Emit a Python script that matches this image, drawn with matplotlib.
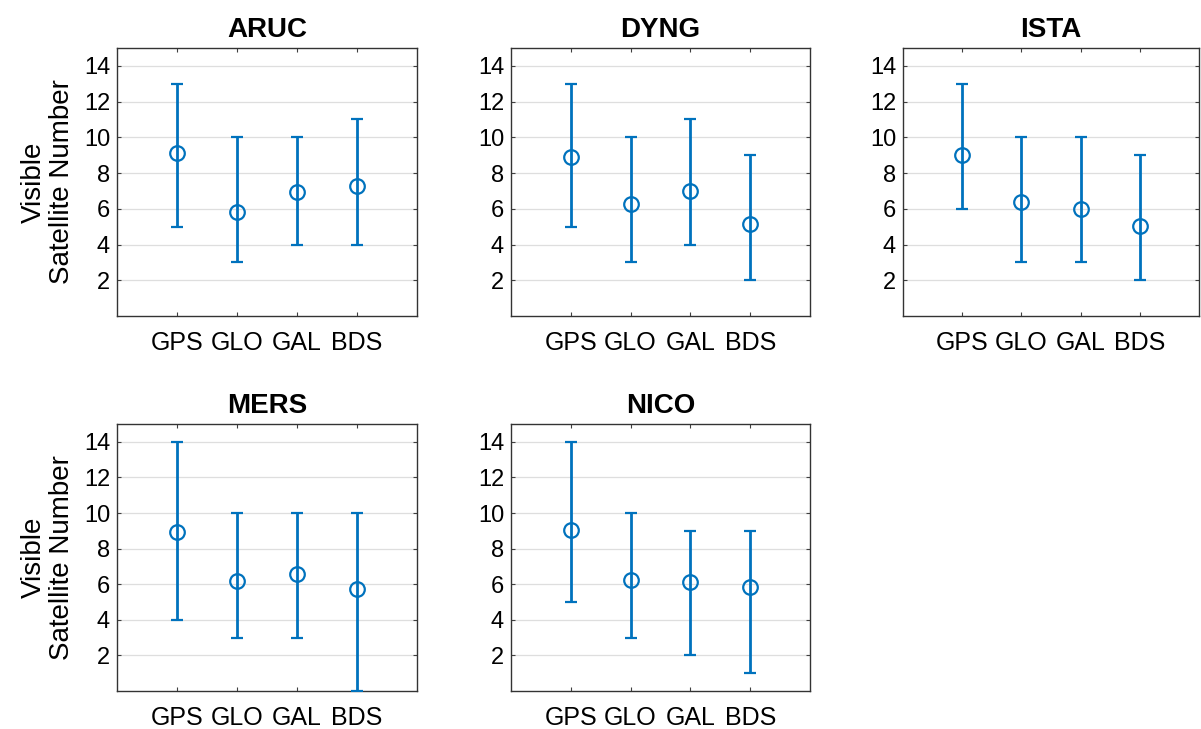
import numpy as np
import matplotlib
matplotlib.use("Agg")
import matplotlib.pyplot as plt

plt.rcParams['font.family'] = ['Liberation Sans', 'DejaVu Sans']

# visible satellite statistics per station (mean, min, max)
systems = ['GPS', 'GLO', 'GAL', 'BDS']
stations = ['ARUC', 'DYNG', 'ISTA', 'MERS', 'NICO']

aruc_mean = [9.1, 5.8, 6.95, 7.3]
aruc_min = [5, 3, 4, 4]
aruc_max = [13, 10, 10, 11]

dyng_mean = [8.9, 6.25, 7.0, 5.13]
dyng_min = [5, 3, 4, 2]
dyng_max = [13, 10, 11, 9]

ista_mean = [9.03, 6.37, 5.98, 5.04]
ista_min = [6, 3, 3, 2]
ista_max = [13, 10, 10, 9]

mers_mean = [8.94, 6.18, 6.6, 5.73]
mers_min = [4, 3, 3, 0]
mers_max = [14, 10, 10, 10]

nico_mean = [9.05, 6.22, 6.12, 5.82]
nico_min = [5, 3, 2, 1]
nico_max = [14, 10, 9, 9]

means = [aruc_mean, dyng_mean, ista_mean, mers_mean, nico_mean]
mins = [aruc_min, dyng_min, ista_min, mers_min, nico_min]
maxs = [aruc_max, dyng_max, ista_max, mers_max, nico_max]

W, H = 1201, 729
fig = plt.figure(figsize=(W / 100, H / 100), dpi=100)

# axes boxes in pixels: left, top, right, bottom
boxes = [(117, 48, 417, 316), (511, 48, 810, 316), (903, 48, 1199, 316),
         (117, 424, 417, 691), (511, 424, 810, 691)]

blue = '#0072BD'
x = np.arange(1, len(systems) + 1)

for i, name in enumerate(stations):
    l, t, r, b = boxes[i]
    ax = fig.add_axes([l / W, 1 - b / H, (r - l) / W, (b - t) / H])
    m = np.array(means[i])
    lo = m - np.array(mins[i])
    hi = np.array(maxs[i]) - m
    ax.errorbar(x, m, yerr=[lo, hi], fmt='o', color=blue, mfc='none',
                mec=blue, ms=10.5, mew=1.6, elinewidth=2, capsize=4.5,
                capthick=2, zorder=3)
    ax.set_xlim(0, 5)
    ax.set_ylim(0, 15)
    ax.set_xticks(x)
    ax.set_xticklabels(systems)
    ax.set_yticks(np.arange(2, 15, 2))
    ax.grid(axis='y', color='#dedede', lw=0.9)
    ax.set_axisbelow(True)
    ax.tick_params(direction='in', length=3, width=0.8, color='#404040',
                   top=True, right=True, labelsize=17)
    ax.tick_params(axis='x', pad=11, labelsize=18)
    ax.tick_params(axis='y', pad=5)
    for s in ax.spines.values():
        s.set_color('#333333')
        s.set_linewidth(1.0)
    ax.set_title(name, fontsize=20, fontweight='bold', pad=8)
    if i in (0, 3):
        ax.set_ylabel('Visible\nSatellite Number', fontsize=20, labelpad=6,
                      linespacing=1.15)

fig.savefig('out.png', dpi=100)
